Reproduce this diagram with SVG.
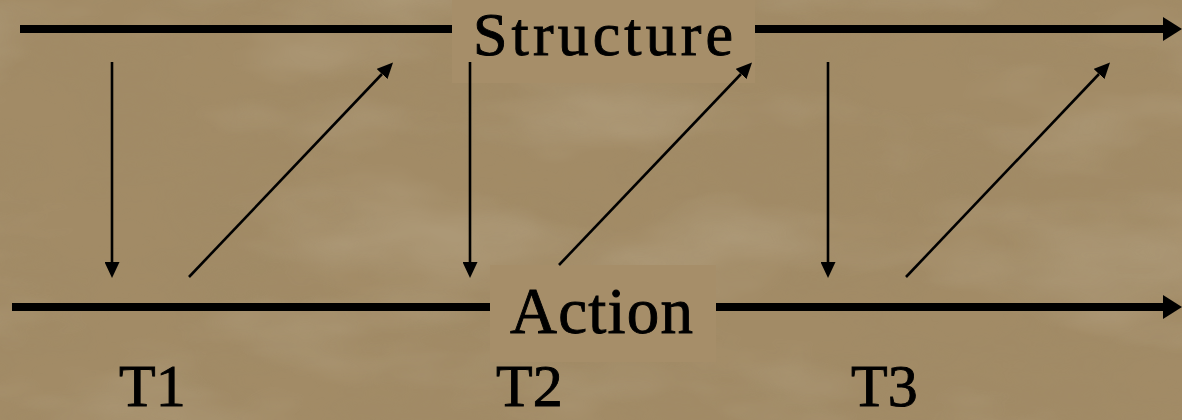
<svg xmlns="http://www.w3.org/2000/svg" width="1182" height="420" viewBox="0 0 1182 420">
  <style>
    .lbl { font-family: "Liberation Serif", "DejaVu Serif", serif; fill: #000; stroke: #000; stroke-width: 0.9; }
    .box { fill: #a68e69; }
    .main { stroke: #000; stroke-width: 8; fill: none; }
    .thin { stroke: #000; stroke-width: 2.6; fill: none; }
  </style>
  <defs>
    <marker id="bigHead" viewBox="0 0 19 24" refX="0" refY="12" markerUnits="userSpaceOnUse" markerWidth="19" markerHeight="24" orient="auto">
      <path d="M0,0 L19,12 L0,24 Z" fill="#000"/>
    </marker>
    <marker id="smallHead" viewBox="0 0 16 15" refX="0" refY="7.5" markerUnits="userSpaceOnUse" markerWidth="16" markerHeight="15" orient="auto">
      <path d="M0,0 L16,7.5 L0,15 Z" fill="#000"/>
    </marker>
    <filter id="paper" x="0" y="0" width="100%" height="100%">
      <feTurbulence type="fractalNoise" baseFrequency="0.006 0.014" numOctaves="5" seed="7" result="noise"/>
      <feColorMatrix in="noise" type="matrix" values="0 0 0 0 0.33  0 0 0 0 0.25  0 0 0 0 0.13  0 0 0 -1.4 0.95" result="dark"/>
      <feComposite in="dark" in2="SourceGraphic" operator="in"/>
    </filter>
    <filter id="light" x="0" y="0" width="100%" height="100%">
      <feTurbulence type="fractalNoise" baseFrequency="0.004 0.01" numOctaves="4" seed="11" result="n2"/>
      <feColorMatrix in="n2" type="matrix" values="0 0 0 0 0.82  0 0 0 0 0.78  0 0 0 0 0.66  0 0 0 1.6 -0.75"/>
      <feComposite in2="SourceGraphic" operator="in"/>
    </filter>
  </defs>

  <g id="background">
    <rect x="0" y="0" width="1182" height="420" fill="#a28b66"/>
    <rect x="0" y="0" width="1182" height="420" fill="#000" filter="url(#paper)" opacity="0.3"/>
    <rect x="0" y="0" width="1182" height="420" fill="#000" filter="url(#light)" opacity="0.25"/>
  </g>

  <g id="main-lines">
    <line class="main" x1="20" y1="29" x2="1163" y2="29" marker-end="url(#bigHead)"/>
    <line class="main" x1="12" y1="307" x2="1163" y2="307" marker-end="url(#bigHead)"/>
  </g>

  <g id="node-structure">
    <rect class="box" x="452" y="0" width="303" height="83"/>
    <text class="lbl" x="473" y="55" font-size="62" textLength="260" lengthAdjust="spacing">Structure</text>
  </g>

  <g id="node-action">
    <rect class="box" x="490" y="265" width="226" height="97"/>
    <text class="lbl" x="510" y="333" font-size="65" textLength="183" lengthAdjust="spacing">Action</text>
  </g>

  <g id="connectors">
    <line class="thin" x1="112" y1="62" x2="112" y2="262" marker-end="url(#smallHead)"/>
    <line class="thin" x1="189" y1="277" x2="382" y2="74" marker-end="url(#smallHead)"/>
    <line class="thin" x1="470" y1="62" x2="470" y2="262" marker-end="url(#smallHead)"/>
    <line class="thin" x1="559" y1="265" x2="741" y2="74" marker-end="url(#smallHead)"/>
    <line class="thin" x1="828" y1="62" x2="828" y2="262" marker-end="url(#smallHead)"/>
    <line class="thin" x1="906" y1="277" x2="1099" y2="74" marker-end="url(#smallHead)"/>
  </g>

  <g id="node-t1">
    <text class="lbl" x="119" y="406" font-size="60">T1</text>
  </g>
  <g id="node-t2">
    <text class="lbl" x="496" y="406" font-size="60">T2</text>
  </g>
  <g id="node-t3">
    <text class="lbl" x="851" y="406" font-size="60">T3</text>
  </g>
</svg>
